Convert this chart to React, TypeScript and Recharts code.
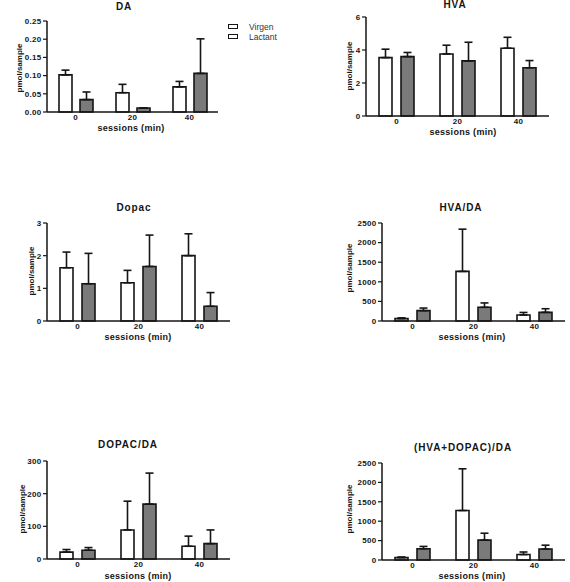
import { BarChart, Bar, XAxis, YAxis, ErrorBar } from 'recharts'

const sessions = ['0', '20', '40']

// DA
const daVirgen = [0.102, 0.053, 0.069]
const daVirgenErr = [0.013, 0.023, 0.015]
const daLactant = [0.034, 0.011, 0.106]
const daLactantErr = [0.021, 0, 0.095]
const daTicks = [0, 0.05, 0.1, 0.15, 0.2, 0.25]

// HVA
const hvaVirgen = [3.54, 3.76, 4.11]
const hvaVirgenErr = [0.51, 0.53, 0.66]
const hvaLactant = [3.6, 3.34, 2.92]
const hvaLactantErr = [0.25, 1.13, 0.44]
const hvaTicks = [0, 2, 4, 6]

// Dopac
const dopacVirgen = [1.63, 1.17, 2.0]
const dopacVirgenErr = [0.48, 0.38, 0.67]
const dopacLactant = [1.14, 1.67, 0.45]
const dopacLactantErr = [0.93, 0.96, 0.42]
const dopacTicks = [0, 1, 2, 3]

// HVA/DA
const hvaDaVirgen = [60, 1265, 153]
const hvaDaVirgenErr = [20, 1078, 65]
const hvaDaLactant = [264, 349, 221]
const hvaDaLactantErr = [66, 112, 92]

// DOPAC/DA
const dopacDaVirgen = [21, 89, 39]
const dopacDaVirgenErr = [8, 88, 31]
const dopacDaLactant = [27, 168, 47]
const dopacDaLactantErr = [8, 95, 42]
const dopacDaTicks = [0, 100, 200, 300]

// (HVA+DOPAC)/DA
const sumVirgen = [60, 1275, 140]
const sumVirgenErr = [17, 1075, 66]
const sumLactant = [290, 512, 282]
const sumLactantErr = [60, 178, 100]

const ratioTicks = [0, 500, 1000, 1500, 2000, 2500]

const INK = '#151515'
const GRAY = '#7a7a7a'

type Panel = {
  title: string
  title_at: [number, number]
  x0: number
  x1: number
  y0: number
  y1: number
  ticks: number[]
  fmt?: (v: number) => string
  virgen: number[]
  virgenErr: number[]
  lactant: number[]
  lactantErr: number[]
  gap: number
  ylab_at: [number, number]
  xlab_at: [number, number]
}

const panels: Panel[] = [
  {
    title: 'DA', title_at: [124, 7], x0: 47, x1: 218, y0: 21, y1: 112,
    ticks: daTicks, fmt: (v) => v.toFixed(2),
    virgen: daVirgen, virgenErr: daVirgenErr, lactant: daLactant, lactantErr: daLactantErr,
    gap: 8, ylab_at: [20, 68], xlab_at: [131, 128],
  },
  {
    title: 'HVA', title_at: [455, 4.5], x0: 366, x1: 549, y0: 17, y1: 116,
    ticks: hvaTicks,
    virgen: hvaVirgen, virgenErr: hvaVirgenErr, lactant: hvaLactant, lactantErr: hvaLactantErr,
    gap: 9, ylab_at: [350, 66], xlab_at: [463, 132],
  },
  {
    title: 'Dopac', title_at: [134, 208], x0: 47, x1: 230, y0: 223, y1: 321,
    ticks: dopacTicks,
    virgen: dopacVirgen, virgenErr: dopacVirgenErr, lactant: dopacLactant, lactantErr: dopacLactantErr,
    gap: 9, ylab_at: [32, 271], xlab_at: [138, 337],
  },
  {
    title: 'HVA/DA', title_at: [461, 208], x0: 382, x1: 565, y0: 223, y1: 321,
    ticks: ratioTicks,
    virgen: hvaDaVirgen, virgenErr: hvaDaVirgenErr, lactant: hvaDaLactant, lactantErr: hvaDaLactantErr,
    gap: 9, ylab_at: [350, 268], xlab_at: [472, 337],
  },
  {
    title: 'DOPAC/DA', title_at: [128, 445], x0: 47, x1: 230, y0: 461, y1: 559,
    ticks: dopacDaTicks,
    virgen: dopacDaVirgen, virgenErr: dopacDaVirgenErr, lactant: dopacDaLactant, lactantErr: dopacDaLactantErr,
    gap: 9, ylab_at: [23, 509], xlab_at: [138, 576],
  },
  {
    title: '(HVA+DOPAC)/DA', title_at: [463, 448], x0: 382, x1: 565, y0: 463, y1: 560,
    ticks: ratioTicks,
    virgen: sumVirgen, virgenErr: sumVirgenErr, lactant: sumLactant, lactantErr: sumLactantErr,
    gap: 9, ylab_at: [350, 509], xlab_at: [472, 576],
  },
]

const YW = 40

function Txt({ x, y, size, bold = true, rotate = false, spacing = 0, children }: any) {
  return (
    <div
      style={{
        position: 'absolute',
        left: x,
        top: y,
        transform: `translate(-50%, -50%)${rotate ? ' rotate(-90deg)' : ''}`,
        whiteSpace: 'nowrap',
        fontSize: size,
        fontWeight: bold ? 700 : 400,
        letterSpacing: spacing,
        lineHeight: 1,
        color: INK,
      }}
    >
      {children}
    </div>
  )
}

function PanelChart({ p }: { p: Panel }) {
  const rows = sessions.map((s, i) => ({
    session: s,
    virgen: p.virgen[i],
    virgenErr: [0, p.virgenErr[i]],
    lactant: p.lactant[i],
    lactantErr: [0, p.lactantErr[i]],
  }))
  const left = p.x0 - 50
  const top = p.y0 - 8
  const width = p.x1 - left + 4
  const height = p.y1 - top + 14
  const tickStyle = { fontSize: 8, fontWeight: 700, fill: INK, letterSpacing: 0.3 }
  return (
    <>
      <div style={{ position: 'absolute', left, top }}>
        <BarChart
          width={width}
          height={height}
          data={rows}
          margin={{ top: 8, right: 4, left: 50 - YW, bottom: 0 }}
          barSize={13}
          barGap={p.gap}
        >
          <XAxis
            dataKey="session"
            height={14}
            tickLine={false}
            tickSize={0}
            tickMargin={2.5}
            axisLine={{ stroke: INK, strokeWidth: 1.5 }}
            tick={tickStyle}
            interval={0}
          />
          <YAxis
            width={YW}
            domain={[0, p.ticks[p.ticks.length - 1]]}
            ticks={p.ticks}
            tickFormatter={p.fmt}
            tickSize={4}
            tickMargin={1.5}
            axisLine={{ stroke: INK, strokeWidth: 1.5 }}
            tickLine={{ stroke: INK, strokeWidth: 1.2 }}
            tick={tickStyle}
            interval={0}
          />
          <Bar dataKey="virgen" fill="#ffffff" stroke={INK} strokeWidth={1.6} isAnimationActive={false}>
            <ErrorBar dataKey="virgenErr" direction="y" width={4} stroke={INK} strokeWidth={1.6} />
          </Bar>
          <Bar dataKey="lactant" fill={GRAY} stroke={INK} strokeWidth={1.6} isAnimationActive={false}>
            <ErrorBar dataKey="lactantErr" direction="y" width={4} stroke={INK} strokeWidth={1.6} />
          </Bar>
        </BarChart>
      </div>
      <Txt x={p.title_at[0]} y={p.title_at[1]} size={10} spacing={0.9}>{p.title}</Txt>
      <Txt x={p.ylab_at[0]} y={p.ylab_at[1]} size={8} rotate>pmol/sample</Txt>
      <Txt x={p.xlab_at[0]} y={p.xlab_at[1]} size={9} spacing={0.3}>sessions (min)</Txt>
    </>
  )
}

function LegendBox({ y, label }: { y: number; label: string }) {
  return (
    <>
      <div
        style={{
          position: 'absolute',
          left: 228,
          top: y - 3,
          width: 8,
          height: 3,
          border: `1.5px solid ${INK}`,
          background: '#fff',
        }}
      />
      <div
        style={{
          position: 'absolute',
          left: 249,
          top: y - 5,
          fontSize: 8.5,
          lineHeight: '10px',
          color: '#333',
          whiteSpace: 'nowrap',
        }}
      >
        {label}
      </div>
    </>
  )
}

export default function App() {
  return (
    <div
      style={{
        position: 'absolute',
        left: 0,
        top: 0,
        width: 570,
        height: 582,
        background: '#fff',
        overflow: 'hidden',
        fontFamily: '"Liberation Sans", Arial, sans-serif',
      }}
    >
      {panels.map((p) => (
        <PanelChart key={p.title} p={p} />
      ))}
      <LegendBox y={27} label="Virgen" />
      <LegendBox y={37} label="Lactant" />
    </div>
  )
}
